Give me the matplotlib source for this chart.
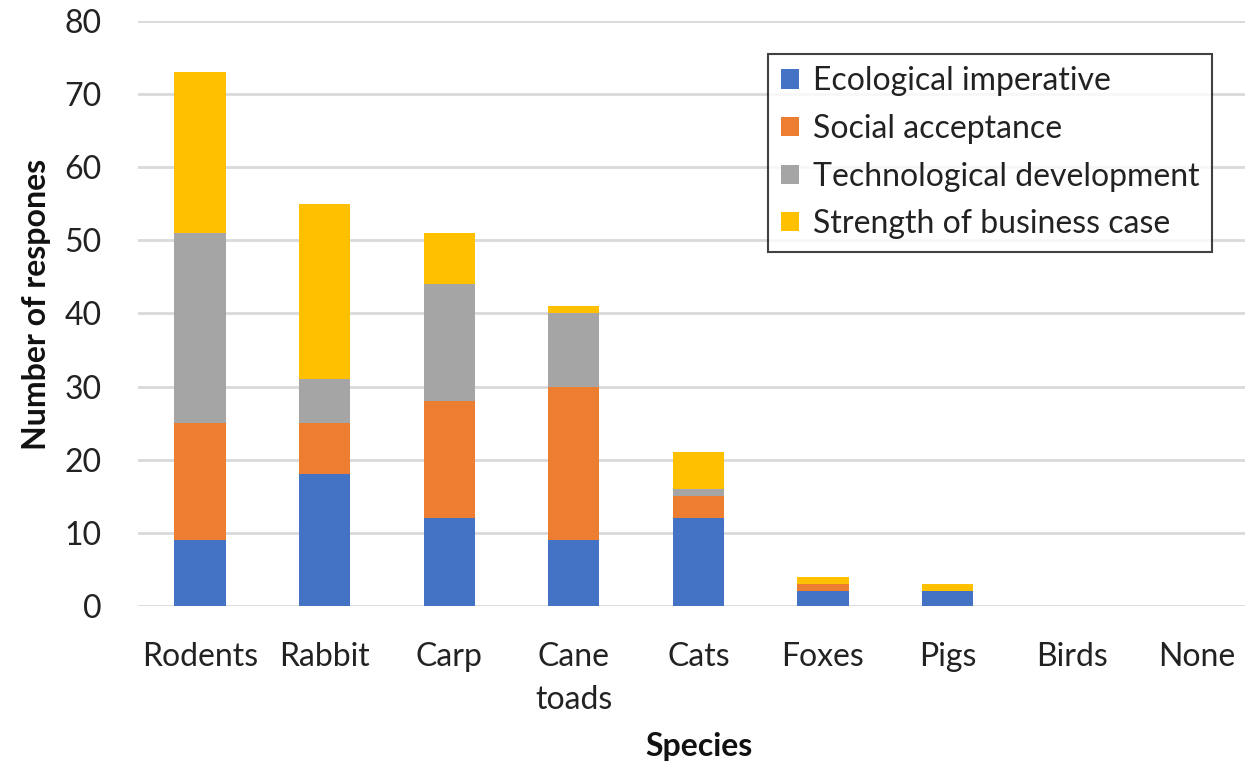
import matplotlib.pyplot as plt
import numpy as np

plt.rcParams['font.family'] = ['Lato', 'DejaVu Sans']

species = ['Rodents', 'Rabbit', 'Carp', 'Cane\ntoads', 'Cats', 'Foxes', 'Pigs', 'Birds', 'None']
ecological = [9, 18, 12, 9, 12, 2, 2, 0, 0]
social = [16, 7, 16, 21, 3, 1, 0, 0, 0]
technological = [26, 6, 16, 10, 1, 0, 0, 0, 0]
business = [22, 24, 7, 1, 5, 1, 1, 0, 0]

series = [('Ecological imperative', ecological, '#4472C4'),
          ('Social acceptance', social, '#ED7D31'),
          ('Technological development', technological, '#A5A5A5'),
          ('Strength of business case', business, '#FFC000')]

fig = plt.figure(figsize=(12.45, 7.66), dpi=100)
ax = fig.add_axes([0.1106, 0.2089, 0.8894, 0.7637])

x = np.arange(len(species))
bottom = np.zeros(len(species))
for name, vals, col in series:
    ax.bar(x, vals, 0.41, bottom=bottom, color=col, label=name, zorder=3)
    bottom += np.array(vals)

ax.set_xlim(-0.5, 8.387)
ax.set_ylim(0, 80)
ax.set_yticks(range(0, 81, 10))
ax.set_xticks(x)
ax.set_xticklabels(species, fontsize=23, color='#222222', linespacing=1.55)
ax.tick_params(axis='y', labelsize=23, labelcolor='#222222', length=0, pad=26)
ax.tick_params(axis='x', length=0, pad=26)
ax.grid(axis='y', color='#D9D9D9', linewidth=2, zorder=0)
for s in ax.spines.values():
    s.set_visible(False)

fig.text(0.029, 0.602, 'Number of respones', rotation=90, ha='center', va='center',
         fontsize=23, fontweight='bold', color='#111111')
fig.text(0.561, 0.025, 'Species', ha='center', va='center',
         fontsize=23, fontweight='bold', color='#111111')

leg = fig.legend(loc='upper left', bbox_to_anchor=(0.617, 0.930), fontsize=23,
                 frameon=True, fancybox=False, edgecolor='#111111',
                 handlelength=0.55, handleheight=0.55, handletextpad=0.45,
                 labelspacing=0.55, borderpad=0.4, borderaxespad=0)
leg.get_frame().set_linewidth(1.5)
for t in leg.get_texts():
    t.set_color('#222222')

fig.savefig('out.png', dpi=100)
